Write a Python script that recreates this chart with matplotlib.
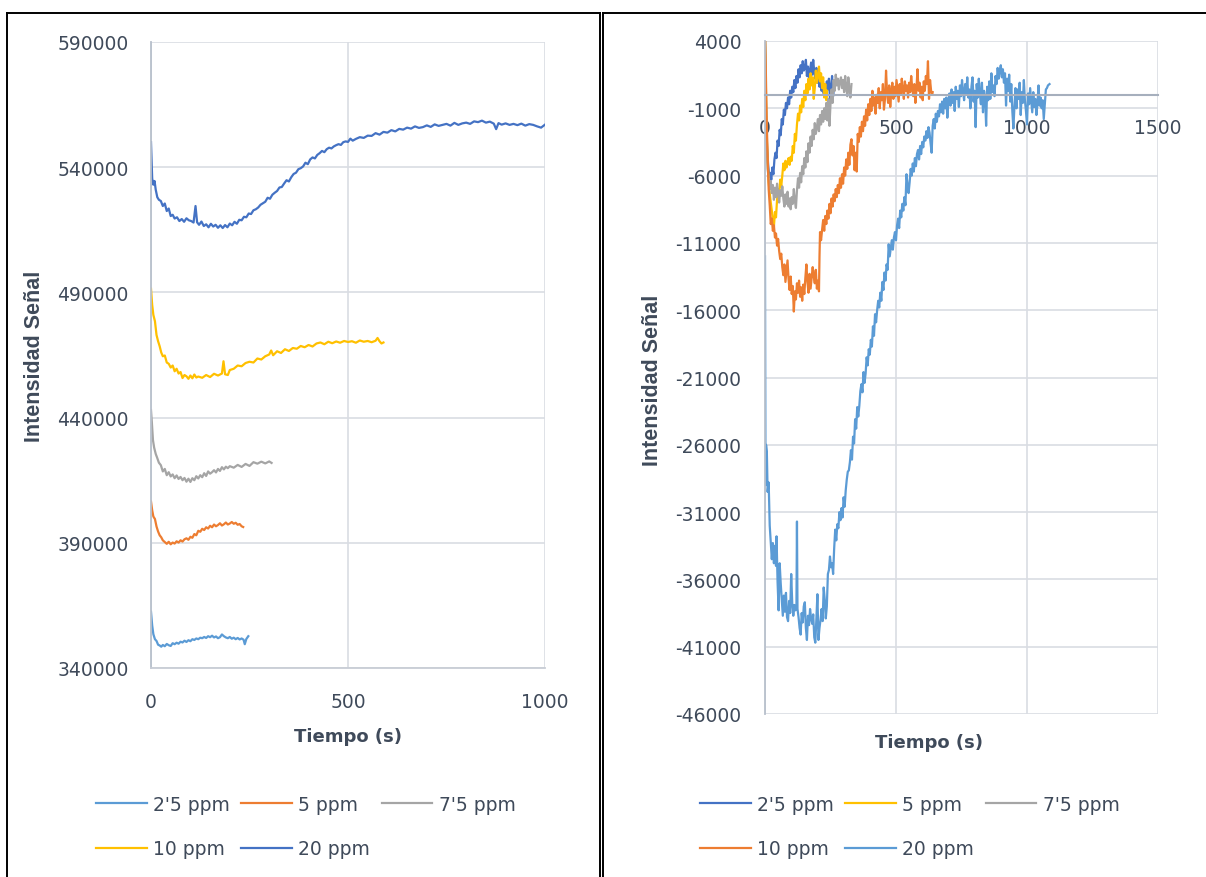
import matplotlib
matplotlib.use("Agg")
import matplotlib.pyplot as plt
from matplotlib.lines import Line2D

# ---------------- left chart: raw signal ----------------
t25_l = [0, 3, 6, 10, 14, 18, 22, 26, 30, 35, 40, 45, 50, 55, 60, 65, 70, 75, 80, 85, 90, 95, 100, 105,
         110, 115, 120, 125, 130, 135, 140, 145, 150, 155, 160, 165, 170, 175, 180, 185, 190, 195, 200,
         205, 210, 215, 220, 225, 230, 235, 238, 242, 247]
v25_l = [362500, 357000, 353500, 351500, 350800, 349300, 349000, 348500, 349200, 348700, 349600, 349100,
         348800, 349900, 349500, 350100, 349700, 350500, 350200, 350900, 350400, 351100, 350700, 351500,
         351200, 351800, 351500, 352100, 351900, 352400, 352000, 352700, 352300, 352900, 352200, 352600,
         351900, 352300, 353400, 352700, 352200, 351900, 352400, 351700, 352100, 351500, 352000, 351400,
         351800, 351300, 349500, 351600, 352700]

t5_l = [0, 3, 6, 10, 14, 18, 22, 26, 30, 35, 40, 45, 50, 55, 60, 65, 70, 75, 80, 85, 90, 95, 100, 105,
        110, 115, 120, 125, 130, 135, 140, 145, 150, 155, 160, 165, 170, 175, 180, 185, 190, 195, 200,
        205, 210, 215, 220, 225, 230, 234]
v5_l = [406500, 403000, 400500, 399500, 396500, 394500, 393000, 392200, 391000, 390300, 389600, 390400,
        389400, 390100, 389700, 390600, 390100, 391000, 390500, 391400, 391800, 391200, 392400, 392000,
        393500, 393000, 394800, 394400, 395600, 395100, 396200, 395700, 396800, 396200, 397300, 396600,
        397100, 397800, 396900, 397400, 398100, 397300, 397700, 398300, 397600, 398000, 397200, 397500,
        396600, 396300]

t75_l = [0, 2, 5, 8, 12, 16, 20, 25, 30, 35, 40, 45, 50, 55, 60, 65, 70, 75, 80, 85, 90, 95, 100, 105,
         110, 115, 120, 125, 130, 135, 140, 145, 150, 155, 160, 165, 170, 175, 180, 185, 190, 195, 200,
         210, 220, 230, 240, 250, 260, 270, 280, 290, 300, 306]
v75_l = [443000, 438500, 431000, 428000, 425500, 423800, 422000, 421000, 418500, 419500, 417000, 418200,
         416500, 417300, 415800, 416900, 415500, 416300, 415000, 415900, 414400, 415600, 414300, 415800,
         415000, 416600, 415700, 417000, 416200, 417800, 416700, 418500, 417600, 418200, 419000, 418100,
         419500, 418700, 420200, 419300, 420400, 419800, 420600, 420000, 421100, 420300, 421500, 420700,
         422200, 421600, 422400, 421700, 422500, 421900]

t10_l = [0, 3, 6, 10, 14, 18, 22, 26, 30, 35, 40, 45, 50, 55, 60, 65, 70, 75, 80, 85, 90, 95, 100, 105,
         110, 115, 120, 130, 140, 150, 160, 170, 180, 184, 188, 195, 200, 210, 220, 230, 240, 250, 260,
         270, 280, 290, 300, 305, 310, 320, 330, 340, 350, 360, 370, 380, 390, 400, 410, 420, 430, 440,
         450, 460, 470, 480, 490, 500, 510, 520, 530, 540, 550, 560, 570, 575, 580, 585, 590]
v10_l = [491500, 485000, 481000, 478500, 473000, 470500, 468500, 466000, 464500, 464800, 462000, 461500,
         460000, 460800, 458500, 459500, 457600, 458200, 455800, 457000, 456500, 455500, 456800, 455700,
         457200, 456000, 456400, 455900, 457000, 456200, 457500, 456800, 457600, 462500, 457300, 457000,
         459000, 459500, 460800, 460500, 461800, 462300, 462000, 463600, 463200, 464500, 465200, 466800,
         464900, 466500, 465800, 467300, 466600, 467800, 467500, 468600, 468100, 469000, 468400, 469600,
         470000, 469300, 470300, 469700, 470400, 469900, 470600, 470200, 470500, 469900, 470800, 470300,
         470600, 470100, 470700, 471800, 470500, 469600, 470000]

t20_l = [0, 3, 6, 9, 12, 16, 20, 25, 30, 35, 40, 45, 50, 55, 60, 66, 72, 78, 84, 90, 96, 102, 108, 113,
         117, 122, 128, 134, 140, 146, 152, 158, 164, 170, 176, 182, 188, 194, 200, 206, 212, 218, 224,
         230, 236, 242, 248, 254, 260, 266, 272, 278, 284, 290, 296, 302, 308, 314, 320, 326, 332, 338,
         344, 350, 356, 362, 368, 374, 380, 386, 392, 398, 404, 410, 416, 422, 428, 434, 440, 446, 452,
         458, 464, 470, 476, 482, 488, 494, 500, 506, 512, 520, 530, 540, 550, 560, 570, 580, 590, 600,
         610, 620, 630, 640, 650, 660, 670, 680, 690, 700, 710, 720, 730, 740, 750, 760, 770, 780, 790,
         800, 810, 820, 830, 840, 850, 860, 870, 876, 882, 890, 900, 910, 920, 930, 940, 950, 960, 970,
         980, 990, 1000]
v20_l = [550000, 535500, 533000, 534500, 531000, 528000, 527000, 526500, 524500, 525500, 522500, 523500,
         520500, 521000, 519500, 520000, 518500, 519300, 518200, 519600, 518800, 518500, 517900, 524500,
         518000, 517000, 518300, 516500, 517200, 516000, 517400, 516300, 517000, 515800, 516800, 515700,
         516900, 516000, 517500, 516800, 518200, 517400, 519000, 518800, 520200, 520000, 521500, 521300,
         522800, 523200, 523900, 525000, 525600, 526200, 527800, 527400, 529000, 529800, 530500, 531900,
         532100, 533500, 534800, 534300, 536000, 537300, 537800, 539200, 539600, 540300, 541800, 541200,
         543100, 543900, 543500, 544900, 545600, 546500, 546000, 547200, 547800, 547500, 548300, 548800,
         549200, 548900, 550000, 550300, 550100, 551400, 550600, 551300, 552000, 551700, 552600, 552500,
         553600, 553000, 554100, 553800, 554800, 554300, 555300, 555000, 555800, 555400, 556300, 555700,
         556000, 556700, 556100, 557100, 556500, 556900, 557300, 556600, 557700, 556900, 557500, 557800,
         557300, 558300, 558000, 558600, 557800, 558200, 557400, 555200, 557600, 557000, 557500, 556900,
         557300, 556800, 557400, 556600, 557200, 556900, 556300, 555800, 557000]

# ---------------- right chart: difference signal ----------------
t25_r = [0, 4, 8, 12, 16, 20, 24, 28, 32, 36, 40, 44, 48, 52, 56, 60, 64, 68, 72, 76, 80, 84, 88, 92, 96,
         100, 104, 108, 112, 116, 120, 124, 128, 132, 136, 140, 144, 148, 152, 156, 160, 164, 168, 172,
         176, 180, 184, 188, 192, 196, 200, 204, 208, 212, 216, 220, 224, 228, 232, 236, 240, 244, 248,
         252, 256, 260, 262]
v25_r = [4300, -1500, -4000, -5200, -6100, -5800, -6300, -5400, -5900, -4800, -4300, -4700, -3400, -3800,
         -2600, -3000, -1800, -2200, -1100, -1500, -600, -1000, -200, -700, 300, -200, 600, 200, 1100, 500,
         1400, 900, 1900, 1300, 2200, 1600, 2500, 1800, 2000, 2600, 1400, 2100, 1200, 1800, 2400, 1500,
         2600, 1700, 1200, 2000, 900, 1500, 600, 1300, 300, 900, 100, 700, -100, 1000, 400, 1200, -300,
         500, 1400, -100, 400]

t5_r = [0, 3, 6, 10, 14, 18, 22, 26, 30, 34, 38, 42, 46, 50, 54, 58, 62, 66, 70, 74, 78, 82, 86, 90, 94,
        98, 102, 106, 110, 114, 118, 122, 126, 130, 134, 138, 142, 146, 150, 154, 158, 162, 166, 170,
        174, 178, 182, 186, 190, 194, 198, 202, 206, 210, 214, 218, 222, 226, 230, 234, 237]
v5_r = [4300, 1000, -2500, -5000, -6500, -7300, -8000, -8600, -9300, -9800, -8700, -9100, -7800, -7000,
        -7500, -6300, -6800, -6000, -5100, -5600, -4900, -5400, -5000, -4700, -5200, -4600, -4900, -3800,
        -4300, -2900, -3400, -2200, -1400, -1900, -800, -1300, -300, -900, 300, -400, 800, 100, 1200, 400,
        1600, 700, 1300, -300, 500, 1800, 900, 1400, 2100, 1000, 1600, 500, 1300, -200, 800, -400, 300]

t75_r = [0, 3, 6, 10, 14, 18, 22, 26, 30, 34, 38, 42, 46, 50, 54, 58, 62, 66, 70, 74, 78, 82, 86, 90,
         94, 98, 102, 106, 110, 114, 118, 122, 126, 130, 134, 138, 142, 146, 150, 154, 158, 162, 166,
         170, 174, 178, 182, 186, 190, 194, 198, 202, 206, 210, 214, 218, 222, 226, 230, 234, 238, 242,
         246, 250, 254, 258, 262, 266, 270, 274, 278, 282, 286, 290, 294, 298, 302, 306, 310, 314, 318,
         322, 326, 330]
v75_r = [4300, 500, -3000, -5500, -6200, -7000, -6400, -7300, -6700, -7800, -6900, -7600, -6600, -7200,
         -8000, -7100, -7500, -6800, -7700, -8300, -7400, -8100, -7200, -8300, -7700, -8500, -7600, -8100,
         -7000, -7900, -8400, -7100, -6200, -6900, -5800, -6500, -5300, -5900, -4700, -5400, -4200, -5000,
         -3600, -4300, -3100, -3800, -2600, -3300, -2100, -2900, -2400, -1800, -2700, -1500, -2200, -1200,
         -2000, -1000, -1800, -600, -1900, -300, -2300, -700, 400, -600, 1100, 300, 1500, 700, 1200, 400,
         1000, 1300, 500, 1100, 200, 1400, 600, -100, 1300, 400, -200, 800]

t10_r = [0, 3, 6, 10, 14, 18, 22, 26, 30, 34, 38, 42, 46, 50, 54, 58, 62, 66, 70, 74, 78, 82, 86, 90,
         94, 98, 102, 106, 110, 114, 118, 122, 126, 130, 134, 138, 142, 146, 150, 154, 158, 162, 166,
         170, 174, 178, 182, 186, 190, 194, 198, 202, 206, 208, 210, 214, 218, 222, 226, 230, 234, 238,
         242, 246, 250, 254, 258, 262, 266, 270, 274, 278, 282, 286, 290, 294, 298, 302, 306, 310, 314,
         318, 322, 326, 330, 334, 338, 342, 346, 350, 354, 358, 362, 366, 370, 374, 378, 382, 386, 390,
         394, 398, 402, 406, 410, 414, 418, 422, 426, 430, 434, 438, 442, 446, 450, 454, 458, 462, 466,
         470, 474, 478, 482, 486, 490, 494, 498, 502, 506, 510, 514, 518, 522, 526, 530, 534, 538, 542,
         546, 550, 554, 558, 562, 566, 570, 574, 578, 582, 586, 590, 594, 598, 602, 606, 610, 614, 618,
         622, 626, 630, 634, 638, 640]
v10_r = [4300, 2000, -1500, -4500, -7000, -8200, -9600, -9200, -10100, -9700, -10600, -10300, -11200,
         -10700, -11600, -12200, -11800, -12800, -13400, -12600, -13900, -13100, -12300, -13700, -14500,
         -13500, -14800, -14200, -16100, -14600, -15200, -14000, -14700, -13800, -15000, -14300, -15300,
         -14100, -14800, -13600, -12600, -13900, -14700, -13300, -14400, -13600, -12800, -13500, -14000,
         -13000, -14400, -13800, -14600, -12000, -10200, -10800, -10000, -9300, -10100, -9000, -9600,
         -8600, -9200, -8100, -8800, -7700, -8300, -7400, -7900, -7000, -7600, -6700, -7300, -6200, -6900,
         -5900, -6600, -5400, -6000, -4800, -5500, -4300, -5200, -3700, -3300, -4500, -3800, -5600, -4300,
         -5700, -2900, -3500, -2400, -3100, -2000, -2700, -1600, -2300, -1100, -1900, -700, -1500, -300,
         -1200, 300, -800, -200, -1400, 0, -600, 500, -1000, 200, -400, 800, -1100, -300, 1800, 100, -600,
         700, -900, 200, 900, -300, 600, -100, 1100, 300, -500, 800, 100, 1200, 400, -300, 1000, 300, 700,
         -200, 900, 200, 1400, 500, -100, 800, -600, 400, 1900, 300, 900, -200, 600, -400, 1000, 300, 1400,
         800, 2500, -300, 1100, 300, 0, 200]

t20_r = [0, 2, 4, 7, 10, 14, 18, 22, 26, 30, 34, 38, 42, 44, 48, 52, 56, 60, 64, 68, 72, 76, 80, 84,
         88, 92, 96, 100, 104, 108, 112, 116, 120, 122, 124, 128, 132, 136, 140, 144, 148, 152, 156, 160,
         164, 168, 172, 176, 180, 184, 188, 192, 196, 200, 204, 208, 212, 216, 220, 224, 228, 232, 236,
         240, 244, 248, 252, 256, 260, 264, 268, 272, 276, 280, 284, 288, 292, 296, 300, 304, 308, 312,
         316, 320, 324, 328, 332, 336, 340, 344, 348, 352, 356, 360, 364, 368, 372, 376, 380, 384, 388,
         392, 396, 400, 404, 408, 412, 416, 420, 424, 428, 432, 436, 440, 444, 448, 452, 456, 460, 464,
         468, 472, 476, 480, 484, 488, 492, 496, 500, 504, 508, 512, 516, 520, 524, 528, 532, 536, 540,
         544, 548, 552, 556, 560, 564, 568, 572, 576, 580, 584, 588, 592, 596, 600, 604, 608, 612, 616,
         620, 624, 628, 632, 636, 640, 644, 648, 652, 656, 660, 664, 668, 672, 676, 680, 684, 688, 692,
         696, 700, 704, 708, 712, 716, 720, 724, 728, 732, 736, 740, 744, 748, 752, 756, 760, 764, 768,
         772, 776, 780, 784, 788, 792, 796, 800, 804, 808, 812, 816, 820, 824, 828, 832, 836, 840, 844,
         848, 852, 856, 860, 864, 868, 872, 876, 880, 884, 888, 892, 896, 900, 904, 908, 912, 916, 920,
         924, 928, 932, 936, 940, 944, 948, 952, 956, 960, 964, 968, 972, 976, 980, 984, 988, 992, 996,
         1000, 1004, 1008, 1012, 1016, 1020, 1024, 1028, 1032, 1036, 1040, 1044, 1048, 1052, 1056, 1060,
         1064, 1068, 1072, 1076, 1080, 1086]
v20_r = [-12000, -29000, -26000, -26500, -29500, -28800, -32000, -33200, -34500, -33300, -34800, -33500,
         -35000, -32800, -36200, -38300, -34800, -36300, -37500, -38700, -37200, -38400, -37000, -38800,
         -39100, -37600, -38500, -35600, -37800, -38700, -37900, -38300, -38000, -31700, -38200, -38800,
         -39600, -40100, -38500, -39200, -38000, -37700, -39600, -40500, -38700, -39400, -38200, -38900,
         -39300, -38600, -40300, -40700, -39000, -37100, -40500, -39600, -39000, -38200, -39100, -36600,
         -37500, -38900, -38000, -35600, -35300, -34300, -35100, -34800, -35600, -33700, -32300, -33100,
         -31900, -32200, -31000, -31600, -30700, -31400, -29900, -30600, -29400, -28600, -28000, -27900,
         -27300, -26400, -27100, -25400, -25900, -24100, -24800, -23200, -23900, -23100, -22000, -21500,
         -22100, -20600, -21400, -20700, -19500, -20100, -18900, -19300, -18200, -18700, -17200, -17900,
         -16300, -16900, -16000, -15300, -15800, -14700, -15300, -13900, -14500, -13200, -13800, -12600,
         -13000, -11100, -12000, -11400, -10800, -11500, -10600, -10200, -10800, -9700, -9200, -9900,
         -8600, -9100, -8100, -8600, -7600, -8200, -5900, -6700, -7300, -6500, -5500, -6000, -5100, -5700,
         -4700, -5300, -4400, -4100, -4800, -3800, -4400, -3500, -3900, -3100, -3400, -2700, -3200, -2400,
         -2800, -3600, -4300, -2300, -1800, -2500, -1400, -2000, -1200, -1600, -700, -1300, -500, -1400,
         -300, -1000, -200, -1700, -400, 100, -800, 400, -600, 200, -1200, 600, -300, 300, -900, 700, -100,
         1100, 200, -400, 800, 0, 1300, -200, 400, -1000, 600, 1300, -500, 300, -2400, 800, -200, 1200, 100,
         -700, 900, -1300, 300, -200, -2300, 600, -400, 1000, -300, 1600, 200, 700, -100, 1400, 800, 2000,
         1200, 1800, 2200, 1300, 1900, 900, 1600, -800, 1200, 300, 1500, -500, 800, -1200, -2500, -900,
         500, -1000, 400, -300, 900, -1500, 200, -600, 1100, -400, -1200, -2200, 100, -700, 500, -400,
         -1300, 200, -900, -300, -1500, -600, 700, -800, -200, -1000, -400, -1800, -700, 400, 500, 700, 800]

labels = ["2'5 ppm", "5 ppm", "7'5 ppm", "10 ppm", "20 ppm"]
yticks_l = [340000, 390000, 440000, 490000, 540000, 590000]
xticks_l = [0, 500, 1000]
yticks_r = [-46000, -41000, -36000, -31000, -26000, -21000, -16000, -11000, -6000, -1000, 4000]
xticks_r = [0, 500, 1000, 1500]

# excel colours
c_blue = "#4472C4"
c_orange = "#ED7D31"
c_gray = "#A5A5A5"
c_gold = "#FFC000"
c_lblue = "#5B9BD5"

txt = "#3f4a5a"
grid = "#d9dde3"

W, H = 1206, 878
fig = plt.figure(figsize=(W / 100, H / 100), dpi=100)

def box(x0, x1, y0, y1):
    return [x0 / W, x1 / W], [1 - y0 / H, 1 - y1 / H]

def style(ax):
    ax.grid(True, color=grid, linewidth=1.2)
    ax.set_axisbelow(True)
    for s in ["top", "right"]:
        ax.spines[s].set_visible(False)
    ax.spines["left"].set_color("#b8c0cc")
    ax.spines["left"].set_linewidth(1.3)
    ax.tick_params(length=0, labelsize=13.5, labelcolor=txt)

# left chart
axl = fig.add_axes([151 / W, 1 - 669 / H, (545 - 151) / W, (669 - 43) / H])
style(axl)
axl.spines["bottom"].set_color("#c8cdd5")
axl.spines["bottom"].set_linewidth(1.3)
lw = 1.6
hl = []
hl.append(axl.plot(t25_l, v25_l, color=c_lblue, lw=lw)[0])
hl.append(axl.plot(t5_l, v5_l, color=c_orange, lw=lw)[0])
hl.append(axl.plot(t75_l, v75_l, color=c_gray, lw=lw)[0])
hl.append(axl.plot(t10_l, v10_l, color=c_gold, lw=lw)[0])
hl.append(axl.plot(t20_l, v20_l, color=c_blue, lw=lw)[0])
axl.set_xlim(0, 1000)
axl.set_ylim(340000, 590000)
axl.set_xticks(xticks_l)
axl.set_yticks(yticks_l)
axl.set_yticklabels([str(v) for v in yticks_l])
axl.tick_params(axis="x", pad=17)
axl.tick_params(axis="y", pad=16)

# right chart
axr = fig.add_axes([765 / W, 1 - 715 / H, (1158 - 765) / W, (715 - 42) / H])
style(axr)
axr.spines["bottom"].set_position(("data", 0))
axr.spines["bottom"].set_color("#a6afbd")
axr.spines["bottom"].set_linewidth(1.5)
hr = []
hr.append(axr.plot(t25_r, v25_r, color=c_blue, lw=lw)[0])
hr.append(axr.plot(t5_r, v5_r, color=c_gold, lw=lw)[0])
hr.append(axr.plot(t75_r, v75_r, color=c_gray, lw=lw)[0])
hr.append(axr.plot(t10_r, v10_r, color=c_orange, lw=lw)[0])
hr.append(axr.plot(t20_r, v20_r, color=c_lblue, lw=lw)[0])
axr.set_xlim(0, 1500)
axr.set_ylim(-46000, 4000)
axr.set_xticks(xticks_r)
axr.set_yticks(yticks_r)
axr.set_yticklabels([str(v) for v in yticks_r])
axr.tick_params(axis="x", pad=17)
axr.tick_params(axis="y", pad=17)

# axis titles
yfont = dict(family=["Liberation Sans", "DejaVu Sans"], fontweight="bold", fontsize=15.5, color=txt)
fig.text(34.5 / W, 1 - 356 / H, "Intensidad Señal", rotation=90, ha="center", va="center", **yfont)
fig.text(652 / W, 1 - 380 / H, "Intensidad Señal", rotation=90, ha="center", va="center", **yfont)
fig.text(348 / W, 1 - 737 / H, "Tiempo (s)", ha="center", va="center", fontsize=13, fontweight="bold", color=txt)
fig.text(929 / W, 1 - 743 / H, "Tiempo (s)", ha="center", va="center", fontsize=13, fontweight="bold", color=txt)

# legends, row-major order for 3 columns
order = [0, 3, 1, 4, 2]
for handles, x0 in [(hl, 96), (hr, 700)]:
    fig.legend([handles[i] for i in order], [labels[i] for i in order], ncol=3,
               loc="upper left", bbox_to_anchor=(x0 / W, 1 - 796 / H), frameon=False,
               fontsize=13.5, labelcolor=txt, handlelength=2.7, handletextpad=0.35,
               columnspacing=0.6, labelspacing=1.35, borderpad=0, borderaxespad=0)

# panel borders
for xs, ys in [box(7, 7, 13.5, 878), box(7, 599.5, 13.5, 13.5), box(599.5, 599.5, 13.5, 878),
               box(602.5, 602.5, 13.5, 878), box(602.5, 1206, 13.5, 13.5)]:
    fig.add_artist(Line2D(xs, ys, color="black", lw=1.4))

fig.savefig("out.png", dpi=100)
